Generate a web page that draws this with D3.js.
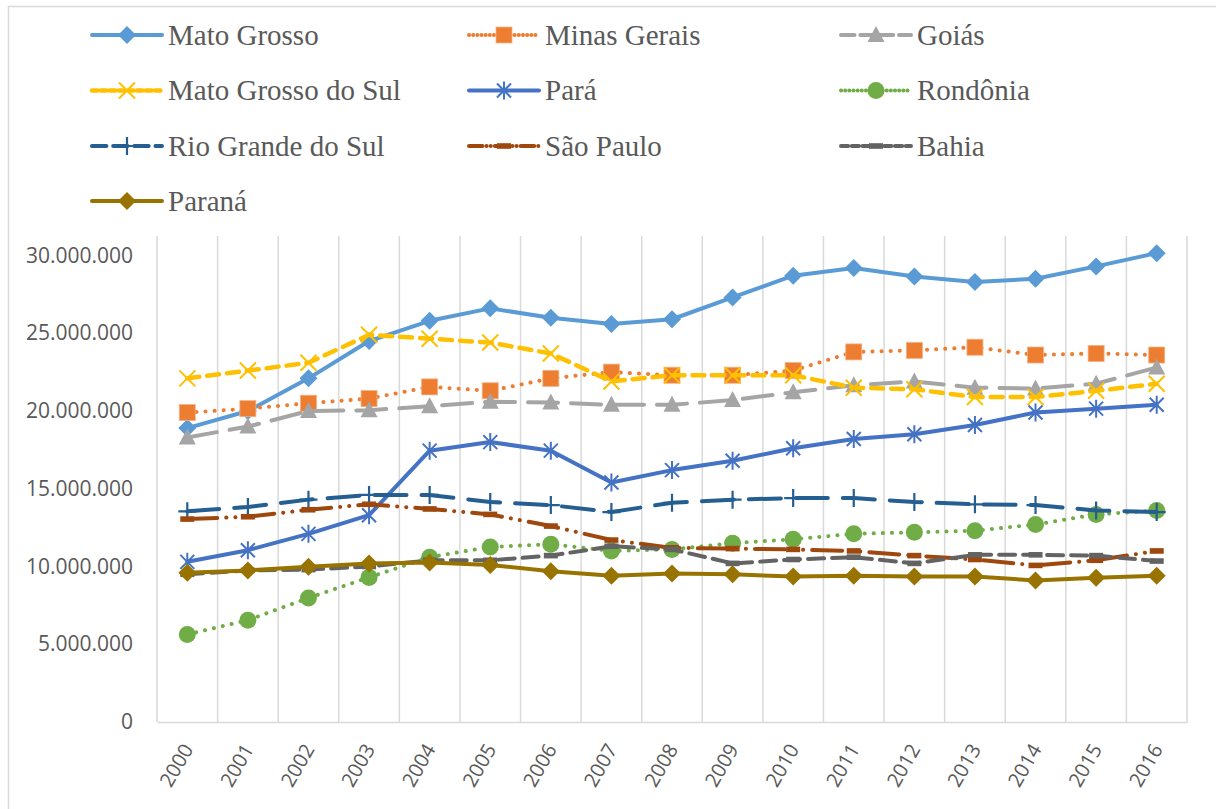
<!DOCTYPE html>
<html>
<head>
<meta charset="UTF-8">
<script src="https://d3js.org/d3.v7.min.js"></script>
<style>
  body { margin: 0; background: #fff; }
</style>
</head>
<body>
<div id="chart"></div>
<script>
// years on the x axis
var years = ["2000","2001","2002","2003","2004","2005","2006","2007","2008",
             "2009","2010","2011","2012","2013","2014","2015","2016"];

// values in millions
var matoGrosso    = [18.9, 20.0, 22.1, 24.5, 25.8, 26.6, 26.0, 25.6, 25.9, 27.3, 28.7, 29.2, 28.65, 28.3, 28.5, 29.3, 30.15];
var minasGerais   = [19.9, 20.15, 20.5, 20.8, 21.55, 21.3, 22.1, 22.5, 22.3, 22.3, 22.6, 23.8, 23.9, 24.1, 23.6, 23.7, 23.6];
var goias         = [18.3, 19.0, 20.0, 20.05, 20.3, 20.6, 20.55, 20.4, 20.4, 20.7, 21.2, 21.65, 21.9, 21.5, 21.45, 21.75, 22.8];
var matoGrossoSul = [22.1, 22.6, 23.1, 24.9, 24.65, 24.4, 23.7, 21.9, 22.3, 22.3, 22.3, 21.5, 21.4, 20.9, 20.9, 21.3, 21.75];
var para          = [10.3, 11.05, 12.1, 13.3, 17.45, 18.0, 17.45, 15.4, 16.2, 16.8, 17.6, 18.2, 18.5, 19.1, 19.9, 20.15, 20.4];
var rondonia      = [5.63, 6.55, 7.98, 9.3, 10.6, 11.26, 11.43, 11.0, 11.1, 11.5, 11.75, 12.1, 12.2, 12.3, 12.7, 13.35, 13.6];
var rioGrandeSul  = [13.55, 13.83, 14.3, 14.6, 14.6, 14.15, 13.95, 13.5, 14.1, 14.3, 14.4, 14.4, 14.15, 14.0, 13.95, 13.6, 13.5];
var saoPaulo      = [13.05, 13.2, 13.65, 14.0, 13.7, 13.35, 12.6, 11.7, 11.2, 11.15, 11.1, 11.0, 10.7, 10.45, 10.07, 10.4, 11.0];
var bahia         = [9.5, 9.75, 9.8, 10.0, 10.4, 10.4, 10.7, 11.3, 11.1, 10.2, 10.45, 10.6, 10.2, 10.75, 10.75, 10.7, 10.35];
var parana        = [9.6, 9.75, 9.98, 10.2, 10.25, 10.1, 9.7, 9.4, 9.55, 9.5, 9.35, 9.4, 9.35, 9.35, 9.1, 9.27, 9.4];

var yTicks = [0, 5e6, 10e6, 15e6, 20e6, 25e6, 30e6];

// series styling (name, values, colour, dash, marker)
var series = [
  { name: "Mato Grosso",        values: matoGrosso,    color: "#5b9bd5", dash: null,                    marker: "diamond" },
  { name: "Minas Gerais",       values: minasGerais,   color: "#ed7d31", dash: "0.1 9",                 marker: "square" },
  { name: "Goiás",              values: goias,         color: "#a5a5a5", dash: "30 13",                 marker: "triangle" },
  { name: "Mato Grosso do Sul", values: matoGrossoSul, color: "#ffc000", dash: "12 8",                  marker: "x" },
  { name: "Pará",               values: para,          color: "#4472c4", dash: null,                    marker: "star" },
  { name: "Rondônia",           values: rondonia,      color: "#70ad47", dash: "0.1 9",                 marker: "circle" },
  { name: "Rio Grande do Sul",  values: rioGrandeSul,  color: "#255e91", dash: "32 15",                 marker: "plus" },
  { name: "São Paulo",          values: saoPaulo,      color: "#9e480e", dash: "30 9 0.1 9 0.1 9",      marker: "dash" },
  { name: "Bahia",              values: bahia,         color: "#636363", dash: "16 8",                  marker: "dash" },
  { name: "Paraná",             values: parana,        color: "#997300", dash: null,                    marker: "diamond" }
];

var W = 1216, H = 809;
var svg = d3.select("#chart").append("svg")
  .attr("width", W).attr("height", H);

// chart border
svg.append("rect")
  .attr("x", 8.5).attr("y", 6.5)
  .attr("width", 1400).attr("height", 1000)
  .attr("fill", "#fff")
  .attr("stroke", "#d9d9d9").attr("stroke-width", 1.5);

var x = d3.scaleBand().domain(years).range([157, 1187]);
var y = d3.scaleLinear().domain([0, 30e6]).range([722, 255.5]);
var plotTop = 236;

// vertical gridlines at category boundaries
var bounds = years.map(function (d) { return x(d); }).concat([x.range()[1]]);
svg.append("g").selectAll("line")
  .data(bounds).enter().append("line")
  .attr("x1", function (d) { return d; }).attr("x2", function (d) { return d; })
  .attr("y1", plotTop).attr("y2", y(0))
  .attr("stroke", "#d9d9d9").attr("stroke-width", 1.5);

// x axis
var fmt = function (v) { return d3.format(",")(v).replace(/,/g, "."); };

var xAxis = svg.append("g")
  .attr("transform", "translate(0," + y(0) + ")")
  .call(d3.axisBottom(x).tickSize(0).tickFormat(function (d) { return d; }));
xAxis.select(".domain").attr("stroke", "#d9d9d9").attr("stroke-width", 1.5);
xAxis.selectAll("text")
  .attr("font-family", "Open Sans")
  .attr("font-size", 20)
  .attr("fill", "#595959")
  .attr("text-anchor", "end")
  .attr("dy", "0.35em")
  .attr("transform", "translate(-2,22) rotate(-60)");

// y axis
var yAxis = svg.append("g")
  .attr("transform", "translate(157,0)")
  .call(d3.axisLeft(y).tickValues(yTicks).tickSize(0).tickPadding(24).tickFormat(fmt));
yAxis.select(".domain").remove();
yAxis.selectAll("text")
  .attr("font-family", "Open Sans")
  .attr("font-size", 21)
  .attr("fill", "#595959");

// marker drawing
function drawMarker(g, type, color) {
  if (type === "diamond") {
    g.append("path").attr("d", "M0,-9L9,0L0,9L-9,0Z").attr("fill", color);
  } else if (type === "square") {
    g.append("rect").attr("x", -8).attr("y", -8).attr("width", 16).attr("height", 16)
      .attr("fill", color).attr("stroke", "#f4b183").attr("stroke-width", 0.8);
  } else if (type === "triangle") {
    g.append("path").attr("d", "M0,-9L8.5,7L-8.5,7Z").attr("fill", color);
  } else if (type === "circle") {
    g.append("circle").attr("r", 8.5).attr("fill", color);
  } else if (type === "x") {
    g.append("path").attr("d", "M-8,-8L8,8M-8,8L8,-8")
      .attr("stroke", color).attr("stroke-width", 2).attr("fill", "none");
  } else if (type === "star") {
    g.append("path").attr("d", "M-7,-7L7,7M-7,7L7,-7M0,-9L0,9")
      .attr("stroke", color).attr("stroke-width", 2).attr("fill", "none");
  } else if (type === "plus") {
    g.append("path").attr("d", "M-9,0L9,0M0,-9L0,9")
      .attr("stroke", color).attr("stroke-width", 2.2).attr("fill", "none");
  } else if (type === "dash") {
    g.append("rect").attr("x", -7).attr("y", -2.8).attr("width", 14).attr("height", 5.6)
      .attr("fill", color);
  }
}

var line = d3.line()
  .x(function (d, i) { return x(years[i]) + x.bandwidth() / 2; })
  .y(function (d) { return y(d * 1e6); });

var lineWidth = function (s) { return s.color === "#ffc000" ? 4.5 : 4; };

series.forEach(function (s) {
  var g = svg.append("g");
  g.append("path")
    .datum(s.values)
    .attr("d", line)
    .attr("fill", "none")
    .attr("stroke", s.color)
    .attr("stroke-width", lineWidth(s))
    .attr("stroke-linecap", "round")
    .attr("stroke-linejoin", "round")
    .attr("stroke-dasharray", s.dash);

  g.selectAll("g.mk")
    .data(s.values).enter().append("g")
    .attr("class", "mk")
    .attr("transform", function (d, i) {
      return "translate(" + (x(years[i]) + x.bandwidth() / 2) + "," + y(d * 1e6) + ")";
    })
    .each(function () { drawMarker(d3.select(this), s.marker, s.color); });
});

// legend, 3 columns
var legCols = [92, 469, 841];
var legRows = [35, 90.5, 146, 201];
var legend = svg.append("g");
series.forEach(function (s, i) {
  var cx = legCols[i % 3], cy = legRows[Math.floor(i / 3)];
  var lg = legend.append("g").attr("transform", "translate(" + cx + "," + cy + ")");
  lg.append("line")
    .attr("x1", 0).attr("x2", 70).attr("y1", 0).attr("y2", 0)
    .attr("stroke", s.color)
    .attr("stroke-width", lineWidth(s))
    .attr("stroke-linecap", "round")
    .attr("stroke-dasharray", s.dash ? s.dash.split(" ").map(function (v) { return +v > 1 ? +v * 0.45 : +v; }).join(" ") : null);
  var m = lg.append("g").attr("transform", "translate(35,0)");
  drawMarker(m, s.marker, s.color);
  lg.append("text")
    .attr("x", 76).attr("y", 0).attr("dy", "0.33em")
    .attr("font-family", "'Liberation Serif', 'Times New Roman', serif")
    .attr("font-size", 29)
    .attr("fill", "#595959")
    .text(s.name);
});
</script>
</body>
</html>
